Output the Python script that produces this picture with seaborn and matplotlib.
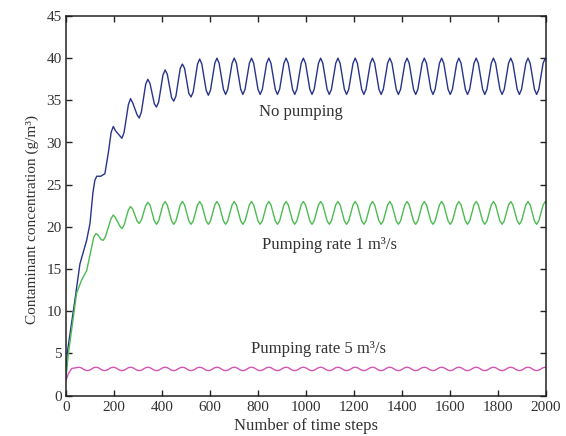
"""
Contaminant concentration vs time steps for three pumping scenarios
"""

import pandas as pd
import matplotlib
matplotlib.use("Agg")
import matplotlib.pyplot as plt
import seaborn as sns

sns.set_theme(style="ticks")
plt.rcParams['font.family'] = ['Liberation Serif', 'DejaVu Serif']

# Time steps around each peak / trough of the periodic part (shoulder, extreme, shoulder)
osc_steps = [188, 197, 206, 224, 233, 242, 260, 269, 278, 296, 305, 314,
             332, 341, 350, 368, 377, 386, 404, 413, 422, 440, 449, 458,
             476, 485, 494, 512, 521, 530, 548, 557, 566, 584, 593, 602,
             620, 629, 638, 656, 665, 674, 692, 701, 710, 728, 737, 746,
             764, 773, 782, 800, 809, 818, 836, 845, 854, 872, 881, 890,
             908, 917, 926, 944, 953, 962, 980, 989, 998, 1016, 1025, 1034,
             1052, 1061, 1070, 1088, 1097, 1106, 1124, 1133, 1142, 1160, 1169, 1178,
             1196, 1205, 1214, 1232, 1241, 1250, 1268, 1277, 1286, 1304, 1313, 1322,
             1340, 1349, 1358, 1376, 1385, 1394, 1412, 1421, 1430, 1448, 1457, 1466,
             1484, 1493, 1502, 1520, 1529, 1538, 1556, 1565, 1574, 1592, 1601, 1610,
             1628, 1637, 1646, 1664, 1673, 1682, 1700, 1709, 1718, 1736, 1745, 1754,
             1772, 1781, 1790, 1808, 1817, 1826, 1844, 1853, 1862, 1880, 1889, 1898,
             1916, 1925, 1934, 1952, 1961, 1970, 1988, 1997, 2006]

# No pumping
nopump_steps = [0, 5, 37, 58, 86, 100, 112, 120, 128, 145, 162, 176] + osc_steps
nopump_conc = [2.0, 5.0, 11.3, 15.6, 18.4, 20.4, 24.0, 25.5, 26.0, 26.0, 26.3, 28.7,
               31.2, 31.9, 31.4, 30.8, 30.5, 31.2,
               34.5, 35.2, 34.7, 33.3, 32.9, 33.6,
               36.9, 37.5, 37.0, 34.6, 34.2, 34.8,
               38.0, 38.6, 38.1, 35.3, 34.9, 35.5,
               38.8, 39.3, 38.8, 35.8, 35.4, 36.0,
               39.3, 39.9, 39.3, 36.2, 35.6, 36.2,
               # steady part
               39.4, 40.0, 39.4, 36.3, 35.7, 36.3,
               39.4, 40.0, 39.4, 36.3, 35.7, 36.3,
               39.4, 40.0, 39.4, 36.3, 35.7, 36.3,
               39.4, 40.0, 39.4, 36.3, 35.7, 36.3,
               39.4, 40.0, 39.4, 36.3, 35.7, 36.3,
               #
               39.4, 40.0, 39.4, 36.3, 35.7, 36.3,
               39.4, 40.0, 39.4, 36.3, 35.7, 36.3,
               39.4, 40.0, 39.4, 36.3, 35.7, 36.3,
               39.4, 40.0, 39.4, 36.3, 35.7, 36.3,
               39.4, 40.0, 39.4, 36.3, 35.7, 36.3,
               #
               39.4, 40.0, 39.4, 36.3, 35.7, 36.3,
               39.4, 40.0, 39.4, 36.3, 35.7, 36.3,
               39.4, 40.0, 39.4, 36.3, 35.7, 36.3,
               39.4, 40.0, 39.4, 36.3, 35.7, 36.3,
               39.4, 40.0, 39.4, 36.3, 35.7, 36.3,
               #
               39.4, 40.0, 39.4, 36.3, 35.7, 36.3,
               39.4, 40.0, 39.4, 36.3, 35.7, 36.3,
               39.4, 40.0, 39.4, 36.3, 35.7, 36.3,
               39.4, 40.0, 39.4, 36.3, 35.7, 36.3,
               #
               39.4, 40.0, 39.4]

# Pumping rate 1 m3/s
rate1_steps = [0, 10, 44, 65, 86, 107, 116, 125, 134, 146, 155, 164] + osc_steps
rate1_conc = [2.2, 5.0, 12.1, 13.7, 14.8, 17.6, 18.8, 19.2, 19.0, 18.5, 18.4, 18.8,
              21.0, 21.4, 21.1, 20.1, 19.8, 20.2,
              22.0, 22.4, 22.1, 20.7, 20.4, 20.8,
              22.5, 22.9, 22.6, 20.7, 20.3, 20.7,
              # steady part
              22.6, 23.0, 22.6, 20.7, 20.3, 20.7,
              22.6, 23.0, 22.6, 20.7, 20.3, 20.7,
              22.6, 23.0, 22.6, 20.7, 20.3, 20.7,
              22.6, 23.0, 22.6, 20.7, 20.3, 20.7,
              22.6, 23.0, 22.6, 20.7, 20.3, 20.7,
              #
              22.6, 23.0, 22.6, 20.7, 20.3, 20.7,
              22.6, 23.0, 22.6, 20.7, 20.3, 20.7,
              22.6, 23.0, 22.6, 20.7, 20.3, 20.7,
              22.6, 23.0, 22.6, 20.7, 20.3, 20.7,
              22.6, 23.0, 22.6, 20.7, 20.3, 20.7,
              #
              22.6, 23.0, 22.6, 20.7, 20.3, 20.7,
              22.6, 23.0, 22.6, 20.7, 20.3, 20.7,
              22.6, 23.0, 22.6, 20.7, 20.3, 20.7,
              22.6, 23.0, 22.6, 20.7, 20.3, 20.7,
              22.6, 23.0, 22.6, 20.7, 20.3, 20.7,
              #
              22.6, 23.0, 22.6, 20.7, 20.3, 20.7,
              22.6, 23.0, 22.6, 20.7, 20.3, 20.7,
              22.6, 23.0, 22.6, 20.7, 20.3, 20.7,
              22.6, 23.0, 22.6, 20.7, 20.3, 20.7,
              22.6, 23.0, 22.6, 20.7, 20.3, 20.7,
              #
              22.6, 23.0, 22.6, 20.7, 20.3, 20.7,
              22.6, 23.0, 22.6, 20.7, 20.3, 20.7,
              #
              22.6, 23.0, 22.6]

# Pumping rate 5 m3/s
rate5_steps = [0, 10, 24, 44, 53, 62, 80, 89, 98, 116, 125, 134, 152, 161, 170] + osc_steps
rate5_conc = [1.8, 2.6, 3.2, 3.3, 3.35, 3.3, 3.0, 2.95, 3.0, 3.3, 3.35, 3.3, 3.0, 2.95, 3.0,
              3.3, 3.35, 3.3, 3.0, 2.95, 3.0,
              3.3, 3.35, 3.3, 3.0, 2.95, 3.0,
              3.3, 3.35, 3.3, 3.0, 2.95, 3.0,
              3.3, 3.35, 3.3, 3.0, 2.95, 3.0,
              3.3, 3.35, 3.3, 3.0, 2.95, 3.0,
              #
              3.3, 3.35, 3.3, 3.0, 2.95, 3.0,
              3.3, 3.35, 3.3, 3.0, 2.95, 3.0,
              3.3, 3.35, 3.3, 3.0, 2.95, 3.0,
              3.3, 3.35, 3.3, 3.0, 2.95, 3.0,
              3.3, 3.35, 3.3, 3.0, 2.95, 3.0,
              #
              3.3, 3.35, 3.3, 3.0, 2.95, 3.0,
              3.3, 3.35, 3.3, 3.0, 2.95, 3.0,
              3.3, 3.35, 3.3, 3.0, 2.95, 3.0,
              3.3, 3.35, 3.3, 3.0, 2.95, 3.0,
              3.3, 3.35, 3.3, 3.0, 2.95, 3.0,
              #
              3.3, 3.35, 3.3, 3.0, 2.95, 3.0,
              3.3, 3.35, 3.3, 3.0, 2.95, 3.0,
              3.3, 3.35, 3.3, 3.0, 2.95, 3.0,
              3.3, 3.35, 3.3, 3.0, 2.95, 3.0,
              3.3, 3.35, 3.3, 3.0, 2.95, 3.0,
              #
              3.3, 3.35, 3.3, 3.0, 2.95, 3.0,
              3.3, 3.35, 3.3, 3.0, 2.95, 3.0,
              3.3, 3.35, 3.3, 3.0, 2.95, 3.0,
              3.3, 3.35, 3.3, 3.0, 2.95, 3.0,
              3.3, 3.35, 3.3, 3.0, 2.95, 3.0,
              #
              3.3, 3.35, 3.3]

series_names = ['No pumping', 'Pumping rate 1 m³/s', 'Pumping rate 5 m³/s']
series_colors = ['#27348b', '#4cbb50', '#d455b4']

df = pd.concat([
    pd.DataFrame({'step': nopump_steps, 'conc': nopump_conc, 'series': series_names[0]}),
    pd.DataFrame({'step': rate1_steps, 'conc': rate1_conc, 'series': series_names[1]}),
    pd.DataFrame({'step': rate5_steps, 'conc': rate5_conc, 'series': series_names[2]}),
], ignore_index=True)

fig = plt.figure(figsize=(5.66, 4.36), dpi=100)
ax = fig.add_axes([66 / 566, 1 - 395.5 / 436, (546 - 66) / 566, (395.5 - 16) / 436])

sns.lineplot(data=df, x='step', y='conc', hue='series', palette=series_colors,
             hue_order=series_names, estimator=None, sort=False, legend=False,
             linewidth=1.0, ax=ax)

text_col = '#333333'
label_pos = [(977, 33.6), (1098, 17.9), (1052, 5.5)]
for name, (lx, ly) in zip(series_names, label_pos):
    ax.text(lx, ly, name, ha='center', va='center', fontsize=12, color=text_col)

ax.set_xlim(0, 2000)
ax.set_ylim(0, 45)
ax.set_xticks(range(0, 2001, 200))
ax.set_yticks(range(0, 46, 5))
ax.tick_params(direction='in', length=4, width=1, colors='#222222', labelcolor=text_col,
               labelsize=11, top=True, right=True)
ax.tick_params(axis='y', pad=3)
ax.tick_params(axis='x', pad=4)
for side in ax.spines.values():
    side.set_visible(True)
    side.set_linewidth(1.1)
    side.set_color('#222222')

ax.set_xlabel('Number of time steps', fontsize=12, color=text_col, labelpad=3)
ax.set_ylabel('Contaminant concentration (g/m³)', fontsize=11, color=text_col)
ax.yaxis.set_label_coords(-0.056, 0.465)

plt.savefig('out.png', dpi=100)
